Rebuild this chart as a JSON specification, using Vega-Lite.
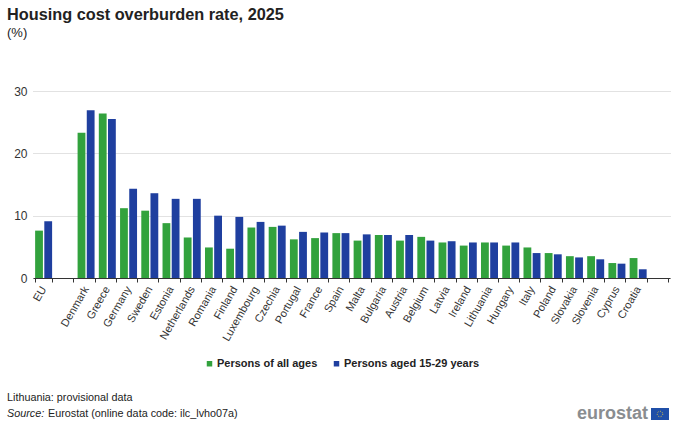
{
  "$schema": "https://vega.github.io/schema/vega-lite/v6.json",
  "background": "white",
  "padding": {"left": 7, "top": 6, "right": 10, "bottom": 0},
  "title": {
    "text": "Housing cost overburden rate, 2025",
    "subtitle": "(%)",
    "anchor": "start",
    "frame": "group",
    "dx": -26,
    "offset": 45,
    "font": "Liberation Sans",
    "fontSize": 16.3,
    "fontWeight": "bold",
    "color": "#222222",
    "subtitleFont": "Liberation Sans",
    "subtitleFontSize": 13,
    "subtitleColor": "#222222",
    "subtitlePadding": 4
  },
  "datasets": {
    "rates": [
      {"country": "EU", "group": "Persons of all ages", "rate": 7.6},
      {"country": "EU", "group": "Persons aged 15-29 years", "rate": 9.1},
      {"country": "Denmark", "group": "Persons of all ages", "rate": 23.3},
      {"country": "Denmark", "group": "Persons aged 15-29 years", "rate": 26.9},
      {"country": "Greece", "group": "Persons of all ages", "rate": 26.4},
      {"country": "Greece", "group": "Persons aged 15-29 years", "rate": 25.5},
      {"country": "Germany", "group": "Persons of all ages", "rate": 11.2},
      {"country": "Germany", "group": "Persons aged 15-29 years", "rate": 14.3},
      {"country": "Sweden", "group": "Persons of all ages", "rate": 10.8},
      {"country": "Sweden", "group": "Persons aged 15-29 years", "rate": 13.6},
      {"country": "Estonia", "group": "Persons of all ages", "rate": 8.8},
      {"country": "Estonia", "group": "Persons aged 15-29 years", "rate": 12.7},
      {"country": "Netherlands", "group": "Persons of all ages", "rate": 6.5},
      {"country": "Netherlands", "group": "Persons aged 15-29 years", "rate": 12.7},
      {"country": "Romania", "group": "Persons of all ages", "rate": 4.9},
      {"country": "Romania", "group": "Persons aged 15-29 years", "rate": 10.0},
      {"country": "Finland", "group": "Persons of all ages", "rate": 4.7},
      {"country": "Finland", "group": "Persons aged 15-29 years", "rate": 9.8},
      {"country": "Luxembourg", "group": "Persons of all ages", "rate": 8.1},
      {"country": "Luxembourg", "group": "Persons aged 15-29 years", "rate": 9.0},
      {"country": "Czechia", "group": "Persons of all ages", "rate": 8.2},
      {"country": "Czechia", "group": "Persons aged 15-29 years", "rate": 8.4},
      {"country": "Portugal", "group": "Persons of all ages", "rate": 6.2},
      {"country": "Portugal", "group": "Persons aged 15-29 years", "rate": 7.4},
      {"country": "France", "group": "Persons of all ages", "rate": 6.4},
      {"country": "France", "group": "Persons aged 15-29 years", "rate": 7.3},
      {"country": "Spain", "group": "Persons of all ages", "rate": 7.2},
      {"country": "Spain", "group": "Persons aged 15-29 years", "rate": 7.2},
      {"country": "Malta", "group": "Persons of all ages", "rate": 6.0},
      {"country": "Malta", "group": "Persons aged 15-29 years", "rate": 7.0},
      {"country": "Bulgaria", "group": "Persons of all ages", "rate": 6.9},
      {"country": "Bulgaria", "group": "Persons aged 15-29 years", "rate": 6.9},
      {"country": "Austria", "group": "Persons of all ages", "rate": 6.0},
      {"country": "Austria", "group": "Persons aged 15-29 years", "rate": 6.9},
      {"country": "Belgium", "group": "Persons of all ages", "rate": 6.6},
      {"country": "Belgium", "group": "Persons aged 15-29 years", "rate": 6.0},
      {"country": "Latvia", "group": "Persons of all ages", "rate": 5.7},
      {"country": "Latvia", "group": "Persons aged 15-29 years", "rate": 5.9},
      {"country": "Ireland", "group": "Persons of all ages", "rate": 5.2},
      {"country": "Ireland", "group": "Persons aged 15-29 years", "rate": 5.7},
      {"country": "Lithuania", "group": "Persons of all ages", "rate": 5.7},
      {"country": "Lithuania", "group": "Persons aged 15-29 years", "rate": 5.7},
      {"country": "Hungary", "group": "Persons of all ages", "rate": 5.2},
      {"country": "Hungary", "group": "Persons aged 15-29 years", "rate": 5.7},
      {"country": "Italy", "group": "Persons of all ages", "rate": 4.9},
      {"country": "Italy", "group": "Persons aged 15-29 years", "rate": 4.0},
      {"country": "Poland", "group": "Persons of all ages", "rate": 4.0},
      {"country": "Poland", "group": "Persons aged 15-29 years", "rate": 3.8},
      {"country": "Slovakia", "group": "Persons of all ages", "rate": 3.5},
      {"country": "Slovakia", "group": "Persons aged 15-29 years", "rate": 3.3},
      {"country": "Slovenia", "group": "Persons of all ages", "rate": 3.5},
      {"country": "Slovenia", "group": "Persons aged 15-29 years", "rate": 3.0},
      {"country": "Cyprus", "group": "Persons of all ages", "rate": 2.4},
      {"country": "Cyprus", "group": "Persons aged 15-29 years", "rate": 2.3},
      {"country": "Croatia", "group": "Persons of all ages", "rate": 3.2},
      {"country": "Croatia", "group": "Persons aged 15-29 years", "rate": 1.4}
    ],
    "footer": [
      {"part": "note", "side": "left", "line": "first", "label": "Lithuania: provisional data"},
      {"part": "source", "side": "left", "line": "second", "label": "Source:"},
      {"part": "origin", "side": "left", "line": "second", "label": "Eurostat (online data code: ilc_lvho07a)"},
      {"part": "logo", "side": "right", "line": "second", "label": "eurostat"}
    ]
  },
  "vconcat": [
    {
      "width": 637,
      "height": 187,
      "data": {"name": "rates"},
      "mark": {"type": "bar"},
      "encoding": {
        "x": {
          "field": "country",
          "type": "nominal",
          "sort": null,
          "scale": {
            "domain": ["EU", " ", "Denmark", "Greece", "Germany", "Sweden", "Estonia", "Netherlands", "Romania", "Finland", "Luxembourg", "Czechia", "Portugal", "France", "Spain", "Malta", "Bulgaria", "Austria", "Belgium", "Latvia", "Ireland", "Lithuania", "Hungary", "Italy", "Poland", "Slovakia", "Slovenia", "Cyprus", "Croatia", "  "],
            "paddingInner": 0.2,
            "paddingOuter": 0.1
          },
          "axis": {
            "title": null,
            "labelAngle": -60,
            "labelAlign": "right",
            "labelBaseline": "middle",
            "labelFont": "Liberation Sans",
            "labelFontSize": 11,
            "labelColor": "#333333",
            "labelPadding": 5,
            "labelOverlap": false,
            "tickBand": "extent",
            "tickColor": "#333333",
            "tickSize": 4,
            "domainColor": "#333333",
            "grid": false
          }
        },
        "xOffset": {
          "field": "group",
          "type": "nominal",
          "sort": ["Persons of all ages", "Persons aged 15-29 years"],
          "scale": {"paddingInner": 0.15}
        },
        "y": {
          "field": "rate",
          "type": "quantitative",
          "scale": {"domain": [0, 30]},
          "axis": {
            "title": null,
            "values": [0, 10, 20, 30],
            "labelFont": "Liberation Sans",
            "labelFontSize": 12,
            "labelColor": "#333333",
            "labelPadding": 6,
            "domain": false,
            "ticks": false,
            "gridColor": "#c4c4c4",
            "gridDash": [1, 1]
          }
        },
        "color": {
          "field": "group",
          "type": "nominal",
          "scale": {
            "domain": ["Persons of all ages", "Persons aged 15-29 years"],
            "range": ["#32a23d", "#1f3f9f"]
          },
          "legend": {
            "title": null,
            "orient": "none",
            "direction": "horizontal",
            "columns": 2,
            "legendX": 171,
            "legendY": 267,
            "symbolType": "square",
            "symbolSize": 30,
            "symbolStrokeWidth": 0,
            "labelFont": "Liberation Sans",
            "labelFontSize": 11,
            "labelFontWeight": "bold",
            "labelColor": "#222222",
            "labelOffset": 2,
            "columnPadding": 13
          }
        }
      }
    },
    {
      "width": 637,
      "height": 47,
      "data": {"name": "footer"},
      "encoding": {
        "x": {
          "field": "side",
          "type": "nominal",
          "axis": null,
          "scale": {"domain": ["left", "right"], "range": [-346.5, 935.5]}
        },
        "y": {
          "field": "line",
          "type": "nominal",
          "axis": null,
          "scale": {"domain": ["first", "second"], "range": [12, 44]}
        },
        "text": {"field": "label", "type": "nominal"}
      },
      "layer": [
        {
          "transform": [{"filter": "datum.part === 'note'"}],
          "mark": {"type": "text", "align": "left", "font": "Liberation Sans", "fontSize": 10.8, "color": "#222222"}
        },
        {
          "transform": [{"filter": "datum.part === 'source'"}],
          "mark": {"type": "text", "align": "left", "font": "Liberation Sans", "fontSize": 10.8, "fontStyle": "italic", "color": "#222222"}
        },
        {
          "transform": [{"filter": "datum.part === 'origin'"}],
          "mark": {"type": "text", "align": "left", "dx": 41, "font": "Liberation Sans", "fontSize": 10.8, "color": "#222222"}
        },
        {
          "transform": [{"filter": "datum.part === 'logo'"}],
          "mark": {"type": "text", "align": "right", "font": "Liberation Sans", "fontSize": 18, "fontWeight": "bold", "color": "#8a8d90"}
        },
        {
          "transform": [{"filter": "datum.part === 'logo'"}],
          "mark": {"type": "tick", "orient": "horizontal", "size": 18, "thickness": 12, "xOffset": 12, "opacity": 1, "color": "#1f4fa8"}
        },
        {
          "transform": [{"filter": "datum.part === 'logo'"}],
          "mark": {"type": "point", "shape": "circle", "size": 30, "xOffset": 12, "filled": false, "opacity": 1, "strokeWidth": 1, "strokeDash": [1, 1.5], "color": "#e8c840"}
        }
      ]
    }
  ],
  "bounds": "flush",
  "spacing": 100,
  "config": {"view": {"stroke": null}}
}
